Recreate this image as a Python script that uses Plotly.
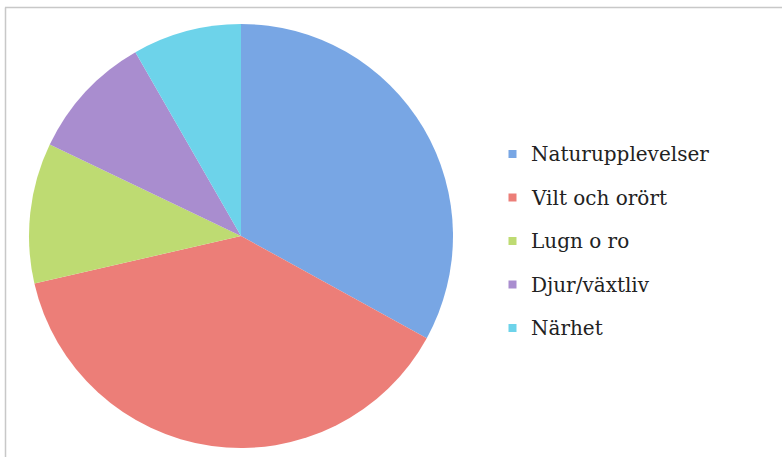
import plotly.graph_objects as go

labels = ["Naturupplevelser", "Vilt och orört", "Lugn o ro", "Djur/växtliv", "Närhet"]
values = [33.0, 38.4, 10.7, 9.6, 8.3]
colors = ["#78a6e4", "#ec7e78", "#bedb72", "#a98dcf", "#6dd3ea"]

W, H = 782, 457

fig = go.Figure()
fig.add_trace(go.Pie(
    labels=labels, values=values, sort=False, direction="clockwise", rotation=0,
    marker=dict(colors=colors, line=dict(width=0)),
    textinfo="none", showlegend=False,
    domain=dict(x=[29 / W, 453 / W], y=[1 - 448 / H, 1 - 24 / H]),
))

# manual legend
legend_x_marker = 512.5
legend_x_text = 529
row_y0 = 154
row_dy = 43.5
shapes = [
    dict(type="line", xref="paper", yref="paper", x0=5 / W, x1=1, y0=1 - 7.5 / H, y1=1 - 7.5 / H,
         line=dict(color="#c8c8c8", width=1.5)),
    dict(type="line", xref="paper", yref="paper", x0=5.5 / W, x1=5.5 / W, y0=0, y1=1 - 7.5 / H,
         line=dict(color="#c8c8c8", width=1.5)),
]
annotations = []
for i, (lab, col) in enumerate(zip(labels, colors)):
    yc = row_y0 + i * row_dy
    shapes.append(dict(type="rect", xref="paper", yref="paper",
                       x0=(legend_x_marker - 4) / W, x1=(legend_x_marker + 4) / W,
                       y0=1 - (yc + 4) / H, y1=1 - (yc - 4) / H,
                       fillcolor=col, line=dict(width=0)))
    annotations.append(dict(x=legend_x_text / W, y=1 - yc / H, xref="paper", yref="paper",
                            text=lab, showarrow=False, xanchor="left", yanchor="middle",
                            font=dict(family="DejaVu Serif", size=20, color="#222222")))

fig.update_layout(
    width=W, height=H, margin=dict(l=0, r=0, t=0, b=0),
    paper_bgcolor="white", plot_bgcolor="white",
    shapes=shapes, annotations=annotations,
)
fig.write_html("out.html", config={"displayModeBar": False},
               post_script="document.body.style.margin='0';document.body.style.overflow='hidden';")
